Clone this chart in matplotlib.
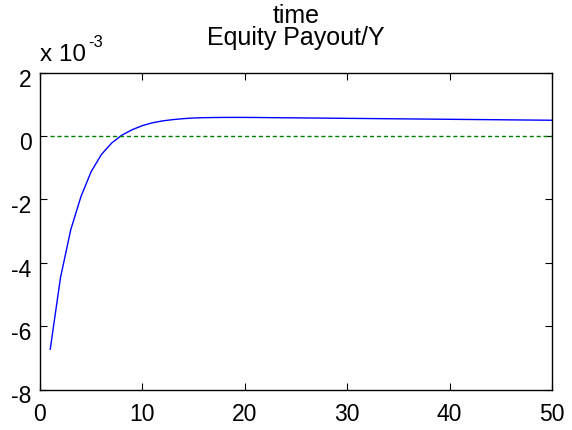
import matplotlib
matplotlib.use("Agg")
import matplotlib.pyplot as plt
import matplotlib.transforms as mtransforms
from matplotlib.ticker import FuncFormatter

plt.rcParams['font.family'] = ['Liberation Sans', 'DejaVu Sans']
plt.rcParams['axes.unicode_minus'] = False

# response over 50 periods (raw values, axis shows x 10^-3)
periods = list(range(1, 51))
payout = [-6.73e-3, -4.47e-3, -2.96e-3, -1.91e-3, -1.12e-3, -0.58e-3, -0.22e-3, 0.03e-3,
          0.20e-3, 0.33e-3, 0.42e-3, 0.48e-3, 0.52e-3, 0.55e-3, 0.57e-3, 0.58e-3,
          0.585e-3, 0.588e-3, 0.589e-3, 0.588e-3, 0.586e-3, 0.583e-3, 0.580e-3, 0.577e-3,
          0.574e-3, 0.571e-3, 0.568e-3, 0.565e-3, 0.562e-3, 0.559e-3, 0.556e-3, 0.553e-3,
          0.550e-3, 0.547e-3, 0.544e-3, 0.541e-3, 0.538e-3, 0.535e-3, 0.532e-3, 0.529e-3,
          0.526e-3, 0.523e-3, 0.520e-3, 0.517e-3, 0.514e-3, 0.511e-3, 0.508e-3, 0.505e-3,
          0.502e-3, 0.499e-3]
steady_state = [0.0] * len(periods)

xticks = [0, 10, 20, 30, 40, 50]
yticks = [-8e-3, -6e-3, -4e-3, -2e-3, 0, 2e-3]

W, H = 572, 430
fig = plt.figure(figsize=(W / 100, H / 100), dpi=100)
ax = fig.add_axes([40 / W, 1 - 389.5 / H, 512 / W, (389.5 - 72.7) / H])

ax.plot(periods, payout, color='#0000ff', lw=1.0)
ax.plot(periods, steady_state, color='#008000', lw=1.0, ls=(0, (3, 2)))

ax.set_xlim(0, 50)
ax.set_ylim(-8e-3, 2e-3)
ax.set_xticks(xticks)
ax.set_yticks(yticks)
ax.yaxis.set_major_formatter(FuncFormatter(lambda v, p: '%g' % round(v * 1e3)))
ax.tick_params(direction='in', top=True, right=True, length=5, width=0.8,
               labelsize=16.5)
ax.tick_params(axis='x', pad=10)
ax.tick_params(axis='y', pad=6)
for s in ax.spines.values():
    s.set_linewidth(1.0)

# matlab draws the y labels a touch below the tick
shift = mtransforms.ScaledTranslation(0, -3.5 / 72, fig.dpi_scale_trans)
for t in ax.yaxis.get_major_ticks():
    t.label1.set_transform(t.label1.get_transform() + shift)

fig.text(296 / W, 1 - 23 / H, 'time', fontsize=18, ha='center', va='baseline')
fig.text(296 / W, 1 - 45 / H, 'Equity Payout/Y', fontsize=18, ha='center', va='baseline')
fig.text(40 / W, 1 - 61 / H, 'x 10', fontsize=17.5, ha='left', va='baseline')
fig.text(88 / W, 1 - 47 / H, '-3', fontsize=12, ha='left', va='baseline')

fig.savefig('out.png', dpi=100)
